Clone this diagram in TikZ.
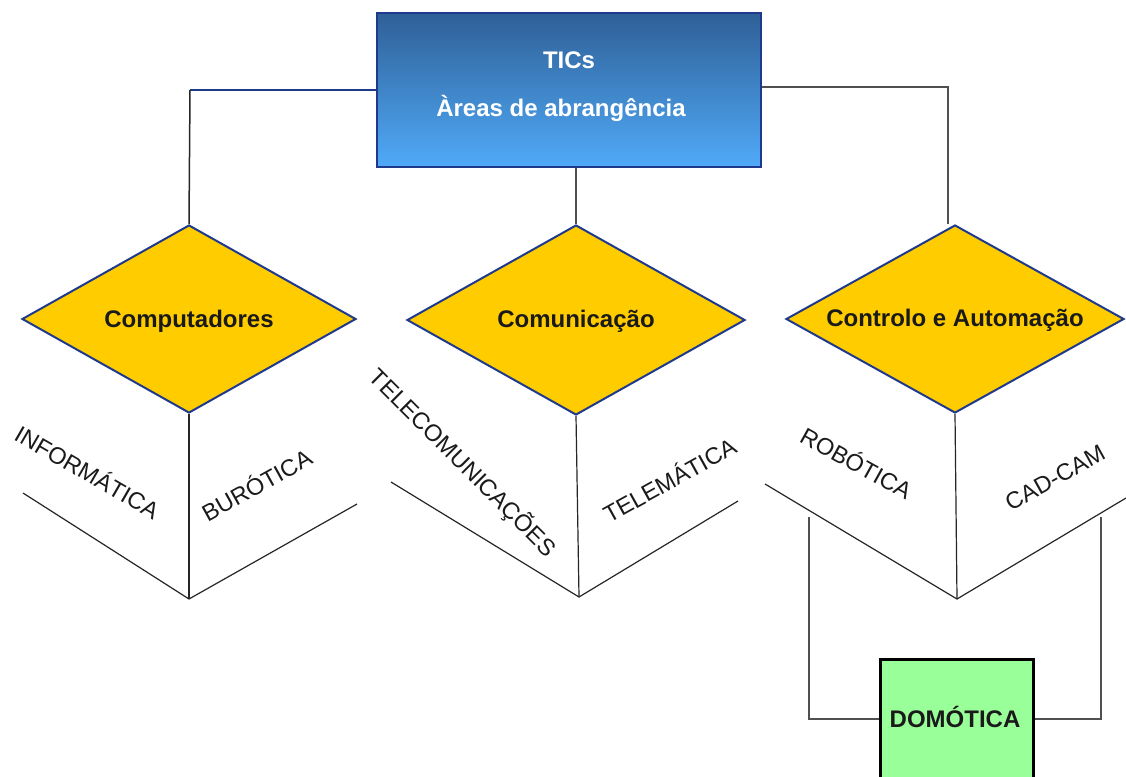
\documentclass[tikz,border=0pt]{standalone}
\usepackage{fontspec}
\setmainfont{Liberation Sans}
\usetikzlibrary{shapes.geometric}
\definecolor{navy}{HTML}{1F3A8C}
\definecolor{boxtop}{HTML}{2F6097}
\definecolor{boxbot}{HTML}{50AAF8}
\definecolor{gold}{HTML}{FFCC00}
\definecolor{mint}{HTML}{99FF99}
\definecolor{conn}{HTML}{505050}
\definecolor{ink}{HTML}{1A1A1A}
\tikzset{
  titlebox/.style={draw=navy, line width=2.5pt, top color=boxtop, bottom color=boxbot,
    minimum width=384pt, minimum height=154pt, inner sep=0pt},
  titletxt/.style={text=white, font=\fontsize{24}{28}\selectfont\bfseries, inner sep=0pt},
  areadiam/.style={diamond, draw=navy, line width=2pt, fill=gold, inner sep=0pt, aspect=1.8},
  diamtxt/.style={text=ink, font=\fontsize{24}{28}\selectfont\bfseries, inner sep=0pt},
  domobox/.style={draw=black, line width=3pt, fill=mint},
  domotxt/.style={text=ink, font=\fontsize{24}{28}\selectfont\bfseries, inner sep=0pt},
  conline/.style={draw=conn, line width=1.8pt},
  thinline/.style={draw=black!85, line width=1.2pt},
  sidelabel/.style={text=ink, font=\fontsize{23.5}{28}\selectfont, inner sep=0pt},
}
\begin{document}
\begin{tikzpicture}[x=1pt,y=-1pt]
\clip (0,0) rectangle (1126,776);
\fill[white] (0,0) rectangle (1126,776);
% title box
\node[titlebox] (top) at (569,90) {};
\node[titletxt] (tics) at (569,60) {TICs};
\node[titletxt] (areas) at (561,108) {Àreas de abrangência};
% diamonds
\node[areadiam, minimum width=334pt, minimum height=188pt] (comp) at (189,319) {};
\node[areadiam, minimum width=338pt, minimum height=190pt] (comm) at (576,320) {};
\node[areadiam, minimum width=338pt, minimum height=188pt] (ctrl) at (955,319) {};
\node[diamtxt] (compt) at (189,321) {Computadores};
\node[diamtxt] (commt) at (576,321) {Comunicação};
\node[diamtxt] (ctrlt) at (955,320) {Controlo e Automação};
% top connectors
\coordinate (lc) at (190,90);
\draw[navy, line width=2pt] (top.west) -- (lc);
\draw[thinline, line width=1.5pt] (lc) -- (comp.north);
\draw[conline] (top.south -| comm.north) -- (comm.north);
\coordinate (rc) at (948,87);
\draw[conline] (top.east |- rc) -- (rc) -- (rc |- ctrl.north);
% group 1
\coordinate (b1) at (189,599);
\coordinate (l1) at (23,493);
\coordinate (r1) at (357,504);
\draw[thinline] (comp.south) -- (b1);
\draw[thinline] (l1) -- (b1) -- (r1);
% group 2
\coordinate (b2) at (579,597);
\coordinate (l2) at (391,482);
\coordinate (r2) at (738,501);
\draw[thinline] (comm.south) -- (b2);
\draw[thinline] (l2) -- (b2) -- (r2);
% group 3
\coordinate (b3) at (957,599);
\coordinate (l3) at (765,484);
\coordinate (r3) at (1126,498);
\draw[thinline] (ctrl.south) -- (b3);
\draw[thinline] (l3) -- (b3) -- (r3);
% side labels
\node[sidelabel, rotate=-30] (inf) at (88,471) {INFORMÁTICA};
\node[sidelabel, rotate=29] (bur) at (256,484) {BURÓTICA};
\node[sidelabel, rotate=-45] (tel) at (463,463) {TELECOMUNICAÇÕES};
\node[sidelabel, rotate=29] (telem) at (669,479) {TELEMÁTICA};
\node[sidelabel, rotate=-29] (rob) at (857,462) {ROBÓTICA};
\node[sidelabel, rotate=29] (cad) at (1055,478) {CAD-CAM};
% domotica
\node[domobox, minimum width=153pt, minimum height=140pt, anchor=north west, inner sep=0pt] (dom) at (879,658) {};
\node[domotxt] (domt) at (955,717) {DOMÓTICA};
\coordinate (dl) at (809,517);
\coordinate (dr) at (1101,517);
\draw[conline] (dl) |- (dom.west |- 0,719);
\draw[conline] (dr) |- (dom.east |- 0,719);
\end{tikzpicture}
\end{document}
